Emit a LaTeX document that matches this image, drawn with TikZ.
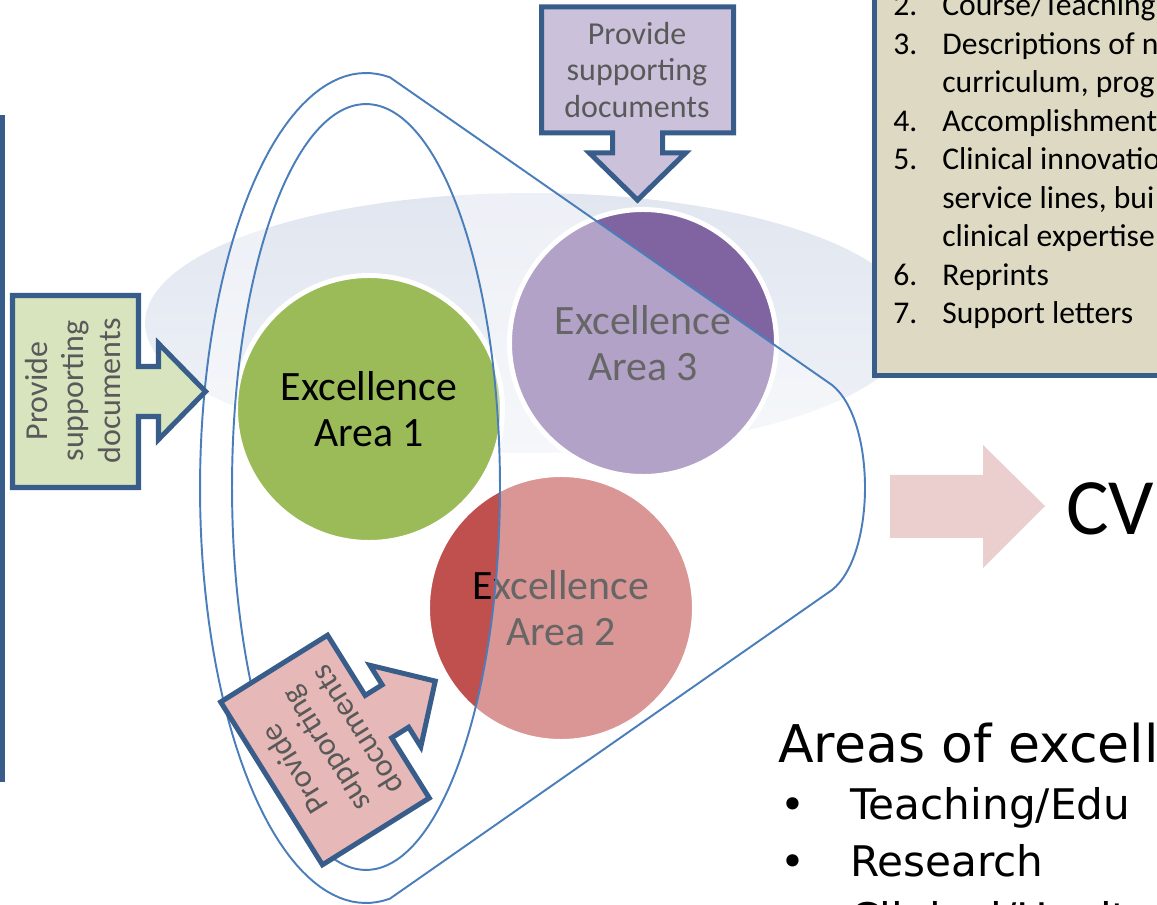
\documentclass[tikz,border=0pt]{standalone}
\usepackage{fontspec}
\setmainfont{Carlito}
\newfontfamily\comicf{DejaVu Sans}
\definecolor{bordblue}{HTML}{385D8A}
\definecolor{funblue}{HTML}{4A7EBB}
\definecolor{cgreen}{HTML}{9BBB59}
\definecolor{cred}{HTML}{C0504D}
\definecolor{cpurple}{HTML}{8064A2}
\definecolor{greenfill}{HTML}{D7E4BD}
\definecolor{purplefill}{HTML}{CCC1DA}
\definecolor{pinkfill}{HTML}{E6B9B8}
\definecolor{boxfill}{HTML}{DDD9C3}
\definecolor{txtgray}{HTML}{595959}
\definecolor{cvpink}{HTML}{EBCFCF}
\definecolor{bgtop}{HTML}{E1E6F0}
\definecolor{bgbot}{HTML}{EFF2F7}
\tikzset{
  arrowbox/.style={draw=bordblue, line width=2.85pt, line join=miter},
  arrowtext/.style={text=txtgray, font=\fontsize{18.2}{21}\selectfont, align=center, inner sep=0pt},
  excirc/.style={circle, draw=white, line width=2.8pt, minimum size=5.34cm, inner sep=0pt,
    align=center, font=\fontsize{23.8}{26.5}\selectfont, text=black},
  listtext/.style={font=\fontsize{18}{21.9}\selectfont, anchor=base west, inner sep=0pt},
  funnel/.style={draw=funblue, line width=1.1pt},
  comictext/.style={anchor=base west, inner sep=0pt},
  pics/docarrow/.style={code={
    \path[pic actions] (-63,-96) -- (63,-96) -- (63,-25) -- (83,-25) -- (83,-48) -- (130,0)
      -- (83,48) -- (83,25) -- (63,25) -- (63,96) -- (-63,96) -- cycle;}}
}
\begin{document}
\begin{tikzpicture}[x=0.02cm, y=-0.02cm]
\useasboundingbox (0,0) rectangle (1157,905);
\clip (0,0) rectangle (1157,905);
% background ellipse
\shade[top color=bgtop, bottom color=bgbot] (530,323) ellipse [x radius=7.7cm, y radius=2.6cm];
% circles
\node[excirc, fill=cgreen] (c1) at (369,409) {Excellence\\Area 1};
\node[excirc, fill=cpurple] (c3) at (643,343) {Excellence\\Area 3};
\node[excirc, fill=cred] (c2) at (561,608) {Excellence\\Area 2};
% funnel overlay
\fill[white, fill opacity=0.4, even odd rule]
  plot[domain=81.7:278.3, samples=90] ({366+166*cos(-\x)},{488+415*sin(-\x)})
  -- (832,590) .. controls (876,555) and (876,420) .. (832,385) -- cycle
  (366,487) ellipse [x radius=2.68cm, y radius=7.66cm];
\draw[funnel]
  plot[domain=81.7:278.3, samples=90] ({366+166*cos(-\x)},{488+415*sin(-\x)})
  -- (832,590) .. controls (876,555) and (876,420) .. (832,385) -- cycle;
\draw[funnel] (366,487) ellipse [x radius=2.68cm, y radius=7.66cm];
% boxes
\draw[bordblue, line width=2.85pt, fill=white] (-40,118) rectangle (2.5,779);
\draw[bordblue, line width=2.85pt, fill=boxfill] (874.5,-40) rectangle (1220,375.5);
\node[listtext] (l0) at (893,16) {\makebox[27.9pt][l]{2.}Course/Teaching};
\node[listtext] (l1) at (893,54.5) {\makebox[27.9pt][l]{3.}Descriptions of n};
\node[listtext] (l2) at (942,93) {curriculum, prog};
\node[listtext] (l3) at (893,131.5) {\makebox[27.9pt][l]{4.}Accomplishment};
\node[listtext] (l4) at (893,170) {\makebox[27.9pt][l]{5.}Clinical innovatio};
\node[listtext] (l5) at (942,208.5) {service lines, bui};
\node[listtext] (l6) at (942,247) {clinical expertise};
\node[listtext] (l7) at (893,285.5) {\makebox[27.9pt][l]{6.}Reprints};
\node[listtext] (l8) at (893,324) {\makebox[27.9pt][l]{7.}Support letters};
% arrows
\pic[arrowbox, fill=greenfill] at (75.5,391.5) {docarrow};
\node[arrowtext, rotate=90] (gtext) at (73,391) {Provide\\supporting\\documents};
\pic[arrowbox, fill=purplefill, rotate=-90] at (637.5,70) {docarrow};
\node[arrowtext] (ptext) at (637,70) {Provide\\supporting\\documents};
\pic[arrowbox, fill=pinkfill, rotate=32] at (325,750) {docarrow};
\node[arrowtext, rotate=122] (ktext) at (325,750) {Provide\\supporting\\documents};
% CV arrow
\fill[cvpink] (890,475) -- (983,475) -- (983,445) -- (1045,506) -- (983,568) -- (983,538) -- (890,538) -- cycle;
\node[anchor=base west, inner sep=0pt, font=\fontsize{45.5}{46}\selectfont] (cv) at (1066,535) {CV};
% areas of excellence
\node[comictext, font=\comicf\fontsize{29.6}{30}\selectfont] (areas) at (778,762) {Areas of excell};
\node[comictext, font=\comicf\fontsize{24}{26}\selectfont] (b1) at (780,819) {\makebox[39.8pt][l]{•}Teaching/Edu};
\node[comictext, font=\comicf\fontsize{24}{26}\selectfont] (b2) at (780,876) {\makebox[39.8pt][l]{•}Research};
\node[comictext, font=\comicf\fontsize{24}{26}\selectfont] (b3) at (780,933) {\makebox[39.8pt][l]{•}Clinical/Healt};
\end{tikzpicture}
\end{document}
